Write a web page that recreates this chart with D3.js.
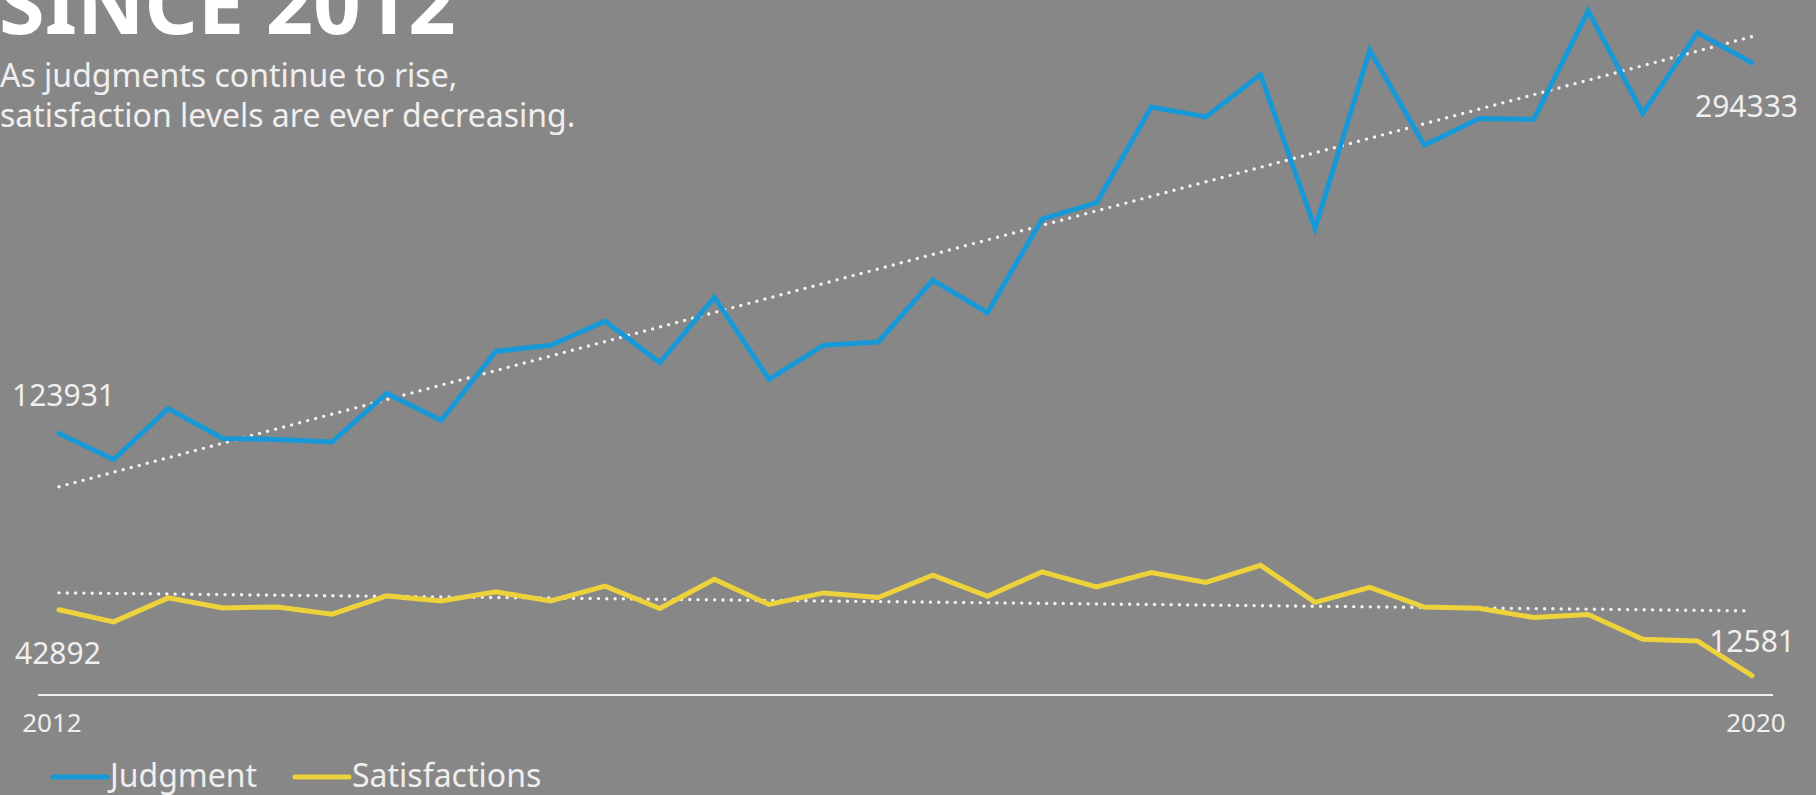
<!DOCTYPE html>
<html>
<head>
<meta charset="utf-8">
<script src="https://cdn.jsdelivr.net/npm/d3@7"></script>
<style>
  html, body { margin: 0; padding: 0; background: #878787; overflow: hidden; }
  svg { display: block; font-family: "Noto Sans", "Open Sans", sans-serif; }
  text { fill: #f0eeee; }
</style>
</head>
<body>
<div id="chart"></div>
<script>
var width = 1816,
    height = 795;

// quarters 2012 Q1 .. 2019 Q4
var quarters = ["2012 Q1", "2012 Q2", "2012 Q3", "2012 Q4",
                "2013 Q1", "2013 Q2", "2013 Q3", "2013 Q4",
                "2014 Q1", "2014 Q2", "2014 Q3", "2014 Q4",
                "2015 Q1", "2015 Q2", "2015 Q3", "2015 Q4",
                "2016 Q1", "2016 Q2", "2016 Q3", "2016 Q4",
                "2017 Q1", "2017 Q2", "2017 Q3", "2017 Q4",
                "2018 Q1", "2018 Q2", "2018 Q3", "2018 Q4",
                "2019 Q1", "2019 Q2", "2019 Q3", "2019 Q4"];

var judgments = [123931, 111950, 135400, 121600, 121150, 120050, 142300, 130000,
                 161750, 164500, 175550, 156550, 186450, 148850, 164500, 166000,
                 194400, 179450, 222450, 230100, 274050, 269450, 288950, 218150,
                 300150, 256450, 268750, 268300, 318200, 271050, 308300, 294333];

var satisfactions = [42892, 37290, 48320, 43720, 44180, 40830, 49240, 46940,
                     51080, 46940, 53700, 43450, 56920, 45290, 50620, 48510,
                     58760, 49100, 60280, 53380, 60000, 55400, 63310, 46250,
                     53200, 44140, 43590, 39310, 40690, 29330, 28550, 12581];

var tickLabels = ["2012", "2020"];
var seriesNames = ["Judgment", "Satisfactions"];

var blue = "#1799d8",
    yellow = "#eed23b",
    white = "#f0eeee";

var svg = d3.select("#chart").append("svg")
    .attr("width", width)
    .attr("height", height);

svg.append("rect")
    .attr("width", width)
    .attr("height", height)
    .attr("fill", "#878787");

var x = d3.scalePoint()
    .domain(quarters)
    .range([59, 1752]);

var y = d3.scaleLinear()
    .domain([0, 320000])
    .range([703, 7]);

// title + subtitle
svg.append("text")
    .attr("x", -1)
    .attr("y", 34)
    .style("font-size", "83px")
    .style("font-weight", "bold")
    .style("fill", "#ffffff")
    .text("SINCE 2012");

svg.append("text")
    .attr("x", 0)
    .attr("y", 87)
    .style("font-size", "32px")
    .text("As judgments continue to rise,");

svg.append("text")
    .attr("x", 0)
    .attr("y", 127)
    .style("font-size", "32px")
    .text("satisfaction levels are ever decreasing.");

// least squares trend
var trend = function(vals) {
    var n = vals.length,
        mx = d3.mean(vals, function(d, i) { return i; }),
        my = d3.mean(vals),
        num = 0, den = 0;
    vals.forEach(function(v, i) {
        num += (i - mx) * (v - my);
        den += (i - mx) * (i - mx);
    });
    var b = num / den,
        a = my - b * mx;
    return [[0, a], [n - 1, a + b * (n - 1)]];
};

var trendLine = d3.line()
    .x(function(d) { return x(quarters[d[0]]); })
    .y(function(d) { return y(d[1]); });

[judgments, satisfactions].forEach(function(vals) {
    svg.append("path")
        .attr("d", trendLine(trend(vals)))
        .attr("fill", "none")
        .attr("stroke", "#f4f4f4")
        .attr("stroke-width", 3.4)
        .attr("stroke-linecap", "round")
        .attr("stroke-dasharray", "0,8.3");
});

var line = d3.line()
    .x(function(d, i) { return x(quarters[i]); })
    .y(function(d) { return y(d); });

svg.append("path")
    .attr("d", line(judgments))
    .attr("fill", "none")
    .attr("stroke", blue)
    .attr("stroke-width", 5)
    .attr("stroke-linecap", "round");

svg.append("path")
    .attr("d", line(satisfactions))
    .attr("fill", "none")
    .attr("stroke", yellow)
    .attr("stroke-width", 5)
    .attr("stroke-linecap", "round");

// end labels
var last = quarters.length - 1;
var endLabels = [
    {v: judgments[0], x: x(quarters[0]) - 47, y: y(judgments[0]) - 27, anchor: "start"},
    {v: satisfactions[0], x: x(quarters[0]) - 44, y: y(satisfactions[0]) + 54, anchor: "start"},
    {v: judgments[last], x: x(quarters[last]) + 46, y: y(judgments[last]) + 54, anchor: "end"},
    {v: satisfactions[last], x: x(quarters[last]) + 43, y: y(satisfactions[last]) - 24, anchor: "end"}
];

svg.selectAll(".endlabel")
    .data(endLabels)
    .enter().append("text")
    .attr("class", "endlabel")
    .attr("x", function(d) { return d.x; })
    .attr("y", function(d) { return d.y; })
    .attr("text-anchor", function(d) { return d.anchor; })
    .style("font-size", "30px")
    .text(function(d) { return d.v; });

// axis
var axisY = 695;
svg.append("line")
    .attr("x1", 38)
    .attr("x2", 1773)
    .attr("y1", axisY)
    .attr("y2", axisY)
    .attr("stroke", white)
    .attr("stroke-width", 2);

svg.append("text")
    .attr("x", x(quarters[0]) - 7)
    .attr("y", 732)
    .attr("text-anchor", "middle")
    .style("font-size", "26px")
    .text(tickLabels[0]);

svg.append("text")
    .attr("x", x(quarters[last]) + 4)
    .attr("y", 732)
    .attr("text-anchor", "middle")
    .style("font-size", "26px")
    .text(tickLabels[1]);

// legend
var legend = svg.selectAll(".legend")
    .data(seriesNames)
    .enter().append("g")
    .attr("class", "legend")
    .attr("transform", function(d, i) { return "translate(" + (i === 0 ? 53 : 295) + ",777)"; });

legend.append("line")
    .attr("x1", 0)
    .attr("x2", 54)
    .attr("stroke", function(d, i) { return i === 0 ? blue : yellow; })
    .attr("stroke-width", 5)
    .attr("stroke-linecap", "round");

legend.append("text")
    .attr("x", 57)
    .attr("y", 10)
    .style("font-size", "32px")
    .text(function(d) { return d; });
</script>
</body>
</html>
